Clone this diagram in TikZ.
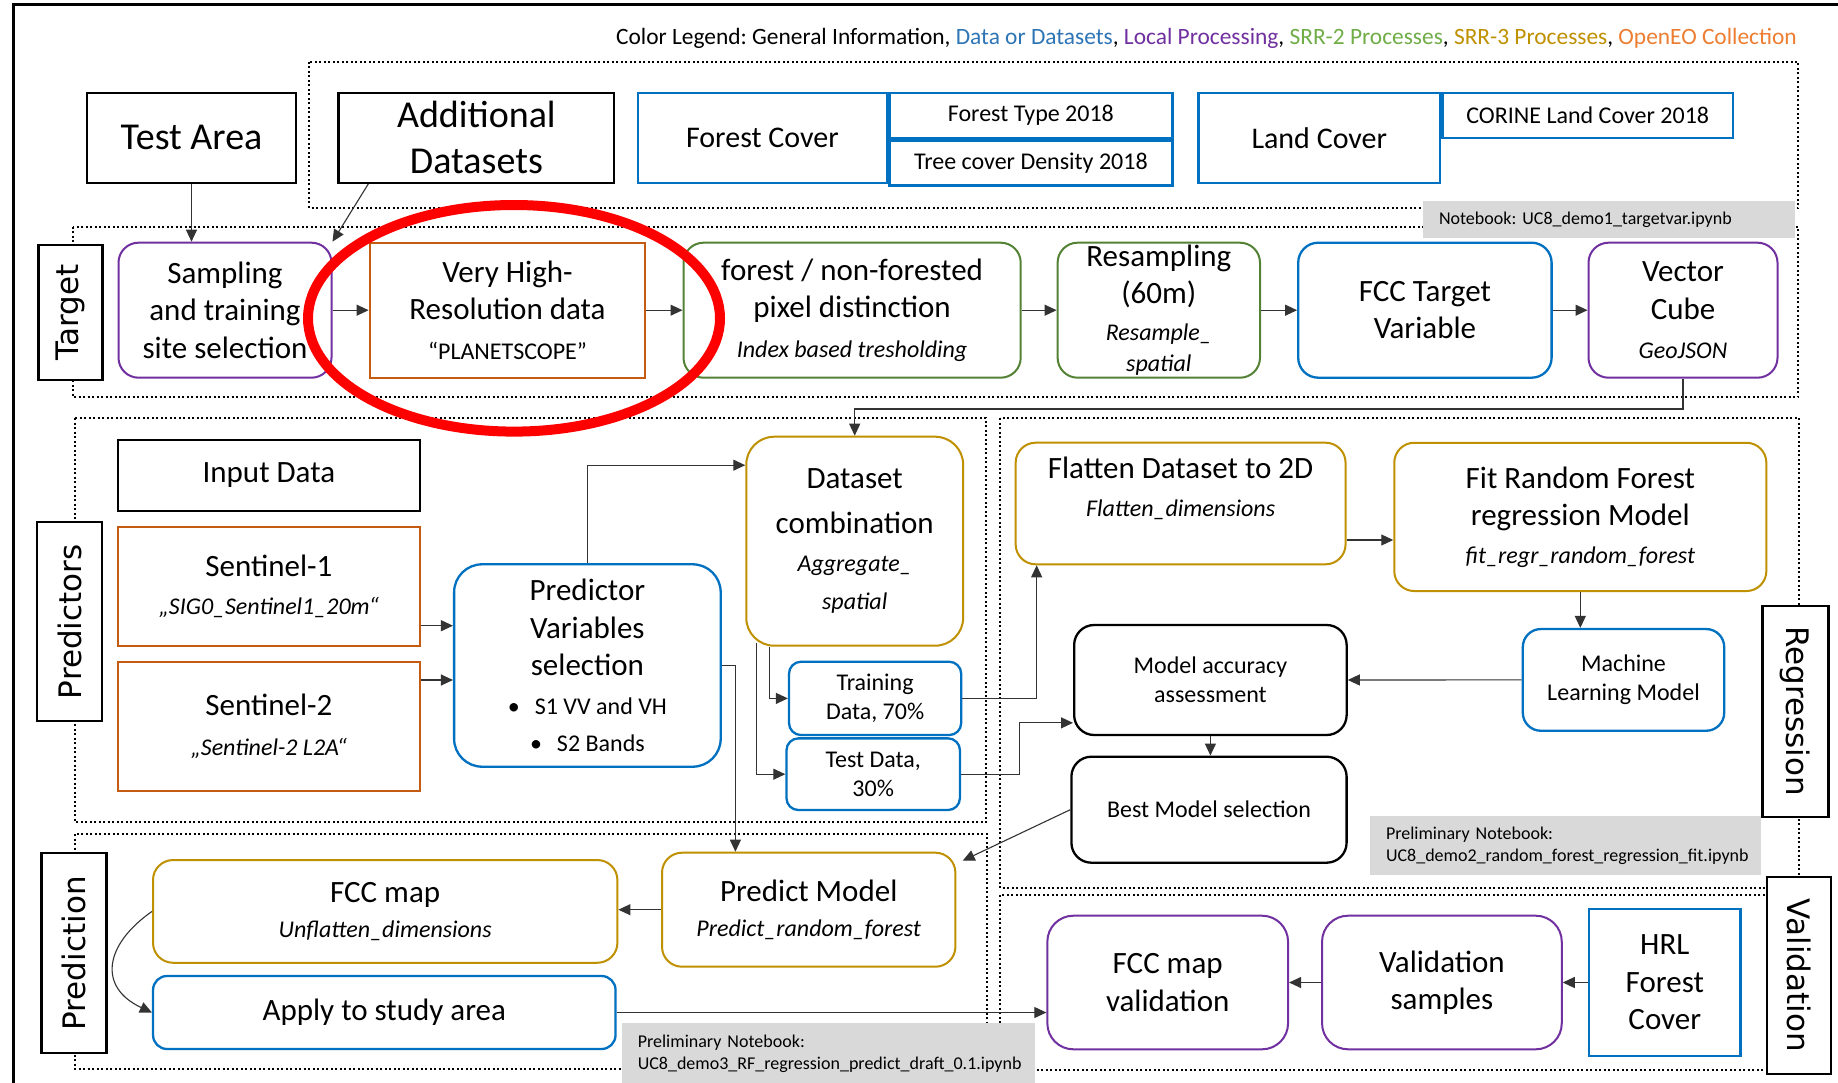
\documentclass[tikz,border=0pt]{standalone}
\usepackage{fontspec}
\setmainfont{Carlito}
\newfontfamily\regionfont{DejaVu Sans}
\usetikzlibrary{arrows.meta}
\definecolor{datablue}{HTML}{0070C0}
\definecolor{localpurple}{HTML}{7030A0}
\definecolor{srrgreen}{HTML}{548235}
\definecolor{srrgold}{HTML}{BF9000}
\definecolor{eoorange}{HTML}{C55A11}
\definecolor{notegrey}{HTML}{D9D9D9}
\definecolor{legblue}{HTML}{2E75B6}
\definecolor{leggreen}{HTML}{70AD47}
\definecolor{legorange}{HTML}{ED7D31}
\newcommand{\procsize}{\fontsize{24}{29}\selectfont}
\newcommand{\procname}{\procsize\itshape}
\tikzstyle{box}=[draw, line width=2pt, align=center, inner sep=0pt, font=\fontsize{31}{37.5}\selectfont]
\tikzstyle{round box}=[box, rounded corners=20pt]
\tikzstyle{info box}=[draw=black, line width=2.3pt]
\tikzstyle{data box}=[draw=datablue, line width=2.3pt]
\tikzstyle{local box}=[draw=localpurple]
\tikzstyle{srr2 box}=[draw=srrgreen]
\tikzstyle{srr3 box}=[draw=srrgold]
\tikzstyle{openeo box}=[draw=eoorange]
\tikzstyle{small text}=[font=\fontsize{24}{29}\selectfont]
\tikzstyle{section}=[draw, fill=white, line width=2.3pt, inner sep=0pt, font=\regionfont\fontsize{31}{31}\selectfont]
\tikzstyle{region}=[draw, line width=2pt, dash pattern=on 2pt off 2.5pt]
\tikzstyle{notebook}=[fill=notegrey, align=left, inner ysep=0pt, inner xsep=16pt, font=\fontsize{18}{22}\selectfont]
\tikzstyle{link}=[-{Triangle[length=12pt,width=11pt]}, line width=1.1pt, black!80]

\begin{document}
\frenchspacing
\begin{tikzpicture}[x=1pt, y=-1pt]
  \useasboundingbox[fill=white] (0,0) rectangle (1838,1083);
  \draw[line width=3pt] (13,1083) -- (13,5) -- (1838,5);
  \node[anchor=base east, inner sep=0pt, font=\fontsize{23.4}{28}\selectfont] (legend) at (1797,45)
    {Color Legend: General Information, \textcolor{legblue}{Data or Datasets}, \textcolor{localpurple}{Local Processing}, \textcolor{leggreen}{SRR-2 Processes}, \textcolor{srrgold}{SRR-3 Processes}, \textcolor{legorange}{OpenEO Collection}};

  % groups
  \draw[region] (309,62) rectangle (1798,208);
  \draw[region] (73,227) rectangle (1798,397);
  \draw[region] (75,418) rectangle (986,822);
  \draw[region] (1000,418) rectangle (1799,888);
  \draw[region] (75,834) rectangle (987,1069);
  \draw[region] (1000,895) rectangle (1799,1070);

  \node[notebook, text width=340pt, minimum height=37pt] (nb1) at (1609,219.7) {Notebook: UC8\_demo1\_targetvar.ipynb};
  \node[notebook, text width=359pt, minimum height=59pt] (nb2) at (1565.5,845.5) {Preliminary Notebook:\\UC8\_demo2\_random\_forest\_regression\_fit.ipynb};
  \node[notebook, text width=381pt, minimum height=61pt] (nb3) at (828.3,1053.9) {Preliminary Notebook:\\UC8\_demo3\_RF\_regression\_predict\_draft\_0.1.ipynb};

  \node[section, rotate=90, minimum width=135pt, minimum height=64pt] (target) at (70.5,312.5) {Target};
  \node[section, rotate=90, minimum width=199pt, minimum height=65pt] (predictors) at (69.5,621.7) {Predictors};
  \node[section, rotate=90, minimum width=200pt, minimum height=65pt] (prediction) at (74,953.3) {Prediction};
  \node[section, rotate=-90, minimum width=211pt, minimum height=66pt] (regression) at (1795.4,711.4) {Regression};
  \node[section, rotate=-90, minimum width=197pt, minimum height=64pt] (validation) at (1799,975.3) {Validation};

  % additional data
  \node[box, info box, font=\fontsize{38}{46}\selectfont, minimum width=209.5pt, minimum height=90pt] (ta) at (191.5,137.7) {Test Area};
  \node[box, info box, font=\fontsize{38}{46}\selectfont, minimum width=275.8pt, minimum height=90pt] (ad) at (476.4,137.7) {Additional\\Datasets};
  \node[box, data box, font=\fontsize{30}{36}\selectfont, minimum width=249.3pt, minimum height=90.6pt] (fc) at (762.4,138) {Forest Cover};
  \node[box, data box, small text, anchor=north west, minimum width=283pt, minimum height=45.6pt] (ft) at (fc.north east) {Forest Type 2018};
  \node[box, data box, small text, anchor=north west, minimum width=283pt, minimum height=45pt] (td) at (ft.south west) {Tree cover Density 2018};
  \node[box, data box, font=\fontsize{30}{36}\selectfont, minimum width=241.8pt, minimum height=90.6pt] (lc) at (1319.3,138) {Land Cover};
  \node[box, data box, small text, anchor=north west, minimum width=290.4pt, minimum height=45.6pt] (cl) at (lc.north east) {CORINE Land Cover 2018};

  % target
  \node[round box, local box, minimum width=213pt, minimum height=135pt] (sa) at (225,310.2) {Sampling\\and training\\site selection};
  \node[box, openeo box, minimum width=275.8pt, minimum height=135pt] (vhr) at (507.5,310.2) {Very High-\\Resolution data\\[2pt]\procsize “PLANETSCOPE”};
  \node[round box, srr2 box, minimum width=337.2pt, minimum height=135pt] (fd) at (852.1,310.2) {forest / non-forested\\pixel distinction\\[2pt]\procname Index based tresholding};
  \node[round box, srr2 box, minimum width=202.4pt, minimum height=135pt] (rs) at (1158.8,310.2) {Resampling\\(60m)\\[-1pt]\procname Resample\_\\[-6pt]\procname spatial};
  \node[round box, data box, minimum width=253.4pt, minimum height=135pt] (tv) at (1424.9,310.2) {FCC Target\\Variable};
  \node[round box, local box, minimum width=189pt, minimum height=135pt] (vc) at (1683,310.2) {Vector\\Cube\\[2pt]\procname GeoJSON};

  % predictors
  \node[box, info box, minimum width=301.7pt, minimum height=70.7pt] (in) at (268.9,475.4) {Input Data};
  \node[box, openeo box, minimum width=301.7pt, minimum height=119pt] (s1) at (268.9,586.2) {Sentinel-1\\[1pt]\procname „SIG0\_Sentinel1\_20m“};
  \node[box, openeo box, minimum width=301.7pt, minimum height=129.3pt] (s2) at (268.9,726.4) {Sentinel-2\\[2pt]\procname „Sentinel-2 L2A“};
  \node[round box, data box, rounded corners=28pt, minimum width=266.6pt, minimum height=202.4pt] (pv) at (587.4,665.5)
    {Predictor\\Variables\\selection\\[1pt]\procsize \textbullet\hspace{15pt}S1 VV and VH\\\procsize\textbullet\hspace{15pt}S2 Bands};
  \node[round box, srr3 box, rounded corners=28pt, minimum width=216.9pt, minimum height=209pt] (dc) at (854.7,541.2) {Dataset\\[7pt]combination\\[1pt]\procname Aggregate\_\\\procname spatial};
  \node[round box, data box, small text, rounded corners=12pt, minimum width=172.2pt, minimum height=73.3pt] (tr) at (875.1,698.4) {Training\\Data, 70\%};
  \node[round box, data box, small text, rounded corners=12pt, minimum width=173.5pt, minimum height=71.7pt] (te) at (873.2,774.2) {Test Data,\\30\%};

  % regression
  \node[round box, srr3 box, minimum width=329.9pt, minimum height=121.6pt] (fl) at (1180.6,503.5) {Flatten Dataset to 2D\\\procname Flatten\_dimensions\\[-4pt]\mbox{}};
  \node[round box, srr3 box, minimum width=372.1pt, minimum height=148.3pt] (rf) at (1580.3,516.9) {Fit Random Forest\\regression Model\\\procname fit\_regr\_random\_forest};
  \node[round box, data box, small text, rounded corners=18pt, minimum width=201.4pt, minimum height=101.7pt] (ml) at (1623.5,679.9) {Machine\\Learning Model};
  \node[round box, info box, small text, minimum width=272.5pt, minimum height=110pt] (ma) at (1210.4,680) {Model accuracy\\assessment};
  \node[round box, info box, small text, minimum width=275.2pt, minimum height=106pt] (bm) at (1209,809.7) {Best Model selection};

  % prediction
  \node[round box, srr3 box, minimum width=464.4pt, minimum height=102.7pt] (fm) at (385.2,911.4) {FCC map\\[-2pt]\procname Unflatten\_dimensions};
  \node[round box, srr3 box, minimum width=293.4pt, minimum height=114pt] (pm) at (808.7,909.7) {Predict Model\\[-2pt]\procname Predict\_random\_forest};
  \node[round box, data box, rounded corners=14pt, minimum width=462.5pt, minimum height=73pt] (ap) at (384.3,1012.5) {Apply to study area};

  % validation
  \node[round box, local box, rounded corners=26pt, minimum width=240.7pt, minimum height=133.6pt] (fv) at (1167.7,982.5) {FCC map\\validation};
  \node[round box, local box, rounded corners=26pt, minimum width=239.7pt, minimum height=133.6pt] (vs) at (1441.9,982.5) {Validation\\samples};
  \node[box, data box, minimum width=151.6pt, minimum height=147pt] (hrl) at (1664.8,982.5) {HRL\\Forest\\Cover};

  % connectors
  \coordinate (s1out) at ([yshift=-39.5pt]s1.east);
  \coordinate (s2out) at ([yshift=46.4pt]s2.east);
  \coordinate (flout) at ([yshift=-36.5pt]fl.east);
  \draw[link] (ta.south) -- (ta.south |- sa.north);
  \draw[link] ([xshift=31pt]ad.south west) -- (sa.north east);
  \draw[link] (sa) -- (vhr);
  \draw[link] (vhr) -- (fd);
  \draw[link] (fd) -- (rs);
  \draw[link] (rs) -- (tv);
  \draw[link] (tv) -- (vc);
  \draw[link] (vc.south) -- ++(0,30.3) -| (dc.north);
  \draw[link] (s1out) -- (s1out -| pv.west);
  \draw[link] (s2out) -- (s2out -| pv.west);
  \draw[link] (pv.north) |- ([yshift=76pt]dc.west);
  \draw[link] (pv.east) -| ([xshift=-73.3pt]pm.north);
  \draw[link] ([xshift=24.3pt]dc.south west) |- (tr.west);
  \draw[link] ([xshift=11.5pt,yshift=4pt]dc.south west) |- (te.west);
  \draw[link] (tr.east) -| ([xshift=22pt]fl.south west);
  \draw[link] (te.east) -- ++(58.4,0) |- ([yshift=13.3pt]ma.south west);
  \draw[link] (flout) -- (flout -| rf.west);
  \draw[link] (rf.south) -- (rf.south |- ml.north);
  \draw[link] (ml) -- (ma);
  \draw[link] (ma.south) -- (ma.south |- bm.north);
  \draw[link] (bm.west) -- ([xshift=6.3pt,yshift=-9pt]pm.north east);
  \draw[link] (pm.west) -- (pm.west -| fm.east);
  \draw[link] (fm.west) to[out=215, in=155, looseness=1.5] (ap.west);
  \draw[link] (ap.east) -- (ap.east -| fv.west);
  \draw[link] (hrl) -- (vs);
  \draw[link] (vs) -- (fv);

  % highlight
  \draw[red, line width=10pt] (514,318.3) ellipse [x radius=206, y radius=113.3];
\end{tikzpicture}
\end{document}
